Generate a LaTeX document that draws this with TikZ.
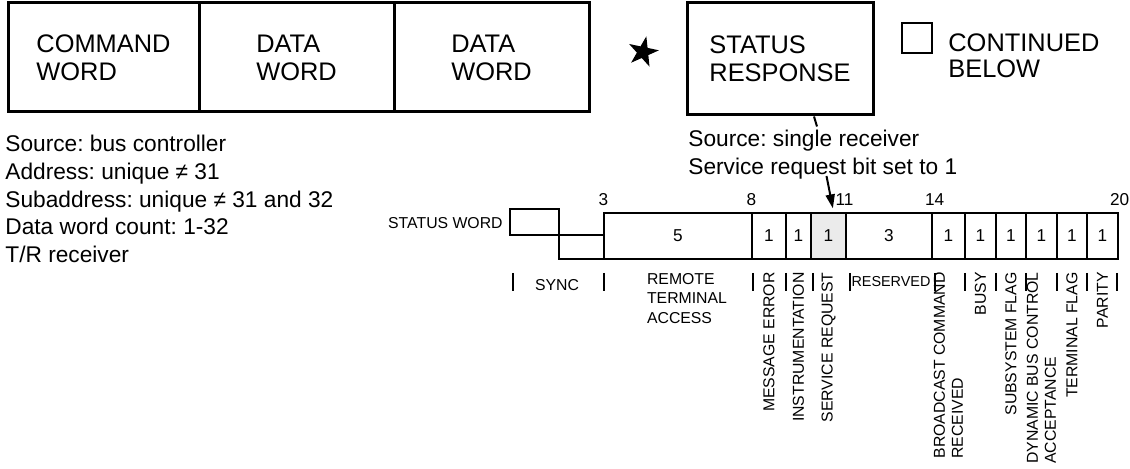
\documentclass[tikz,border=0pt]{standalone}
\usepackage{fontspec}
\setmainfont{Liberation Sans}
\frenchspacing
\usetikzlibrary{shapes.geometric,arrows.meta}

\tikzset{
  wordbox/.style={draw,line width=1.5pt,align=left,minimum height=54.5pt,inner sep=0pt,font=\fontsize{12.7}{14}\selectfont},
  syncbox/.style={draw,line width=0.6pt,inner sep=0pt},
  bitcell/.style={draw,line width=0.6pt,minimum height=23pt,inner sep=0pt,font=\fontsize{8.6}{9}\selectfont},
  note/.style={anchor=north west,align=left,inner sep=0pt,font=\fontsize{11.35}{13.8}\selectfont},
  bitnum/.style={inner sep=0pt,font=\fontsize{8.6}{9}\selectfont},
  fieldlbl/.style={inner sep=0pt,align=left,font=\fontsize{7.9}{9.75}\selectfont},
  vlbl/.style={fieldlbl,rotate=90,anchor=east,font=\fontsize{7.9}{9}\selectfont},
}

\begin{document}
\begin{tikzpicture}[x=0.5pt,y=-0.5pt]
  \useasboundingbox (0,0) rectangle (1130,469);
  % message words
  \node[wordbox,minimum width=95.5pt] (cmd) at (103.5,57.5) {COMMAND\\WORD};
  \node[wordbox,minimum width=97.5pt] (dw1) at (296.5,57.5) {DATA\\WORD};
  \node[wordbox,minimum width=97.5pt] (dw2) at (491.5,57.5) {DATA\\WORD};
  \node[star,star points=5,star point ratio=2.6,fill,inner sep=0pt,minimum size=16pt,rotate=-12] (gap) at (643,52) {};
  \node[wordbox,minimum width=93pt,minimum height=56pt] (resp) at (780,59) {STATUS\\RESPONSE};
  \node[draw,line width=1.2pt,minimum size=15pt,inner sep=0pt] (key) at (917,38) {};
  \node[note,font=\fontsize{12.7}{13}\selectfont] (keytxt) at (948,33) {CONTINUED\\BELOW};
  \node[note] (src) at (5,135) {Source: bus controller\\Address: unique ≠ 31\\Subaddress: unique ≠ 31 and 32\\Data word count: 1-32\\T/R receiver};
  \node[note] (svc) at (688,130) {Source: single receiver\\Service request bit set to 1};
  \draw[line width=1pt] ([xshift=17pt]resp.south) -- ++(1.5pt,-5pt);
  % status word
  \node[fieldlbl,anchor=east] (swlbl) at (503,223) {STATUS WORD};
  \node[syncbox,minimum width=24.5pt,minimum height=13pt] (sync1) at (534.5,222) {};
  \node[syncbox,minimum width=22.5pt,minimum height=12pt] (sync2) at (581.5,247) {};
  \foreach \l/\r/\v/\n/\f in {604/752/5/rta/white,752/786/1/me/white,786/811/1/instr/white,811/846/1/srq/black!8,846/932/3/res/white,932/965/1/bcr/white,965/996/1/busy/white,996/1026/1/ssf/white,1026/1057/1/dbc/white,1057/1087/1/tf/white,1087/1118/1/par/white}
    \node[bitcell,fill=\f,minimum width={(\r-\l)*0.5pt}] (\n) at ({(\l+\r)/2},236) {\v};
  \node[bitnum] at ([yshift=6.5pt]rta.north west) {3};
  \node[bitnum] at ([yshift=6.5pt]me.north west) {8};
  \node[bitnum] at ([xshift=-1pt,yshift=6.5pt]srq.north east) {11};
  \node[bitnum] at ([xshift=1pt,yshift=6.5pt]res.north east) {14};
  \node[bitnum] at ([xshift=0.5pt,yshift=6.5pt]par.north east) {20};
  \coordinate (arrtail) at (826.5,176);
  \draw[line width=1pt,-{Triangle[length=7pt,width=4.5pt]}] (arrtail) -- ([xshift=2.2pt,yshift=2pt]srq.north);
  % field names
  \foreach \x in {513,604,753,786,813,850,935,965,996,1026,1057,1087,1117}
    \draw[line width=0.6pt] (\x,273) -- (\x,291);
  \coordinate (labtop) at (0,272);
  \node[fieldlbl] (synclbl) at (557,285.5) {SYNC};
  \node[fieldlbl] (rtalbl) at (687,298.5) {REMOTE\\TERMINAL\\ACCESS};
  \node[fieldlbl,font=\fontsize{7.2}{9}\selectfont] (reslbl) at (891,282) {RESERVED};
  \node[vlbl] (melbl) at (me |- labtop) {MESSAGE ERROR};
  \node[vlbl] (instrlbl) at (instr |- labtop) {INSTRUMENTATION};
  \node[vlbl] (srqlbl) at (srq |- labtop) {SERVICE REQUEST};
  \node[vlbl] (bcrlbl) at (bcr |- labtop) {BROADCAST COMMAND\\RECEIVED};
  \node[vlbl] (busylbl) at (busy |- labtop) {BUSY};
  \node[vlbl] (ssflbl) at (ssf |- labtop) {SUBSYSTEM FLAG};
  \node[vlbl] (dbclbl) at (dbc |- labtop) {DYNAMIC BUS CONTROL\\ACCEPTANCE};
  \node[vlbl] (tflbl) at (tf |- labtop) {TERMINAL FLAG};
  \node[vlbl] (parlbl) at (par |- labtop) {PARITY};
\end{tikzpicture}
\end{document}
